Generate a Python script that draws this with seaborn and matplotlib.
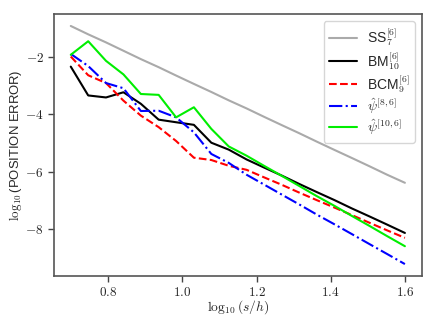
import numpy as np
import pandas as pd
import matplotlib
matplotlib.use("Agg")
import matplotlib.pyplot as plt
from matplotlib.ticker import FuncFormatter
import seaborn as sns

x = [0.699, 0.746, 0.794, 0.841, 0.888, 0.936, 0.983, 1.031, 1.078, 1.125,
     1.173, 1.220, 1.268, 1.315, 1.362, 1.410, 1.457, 1.505, 1.552, 1.600]
ss7 = [-0.94, -1.23, -1.51, -1.80, -2.09, -2.37, -2.66, -2.95, -3.23, -3.52,
       -3.80, -4.09, -4.38, -4.66, -4.95, -5.24, -5.52, -5.81, -6.10, -6.38]
bm10 = [-2.35, -3.35, -3.42, -3.24, -3.64, -4.19, -4.28, -4.37, -4.99, -5.23,
        -5.57, -5.85, -6.13, -6.42, -6.70, -6.98, -7.27, -7.55, -7.83, -8.12]
bcm9 = [-2.00, -2.65, -2.92, -3.53, -4.05, -4.45, -4.93, -5.51, -5.59, -5.79,
        -5.93, -6.19, -6.45, -6.72, -6.98, -7.24, -7.50, -7.77, -8.03, -8.29]
psi86 = [-1.91, -2.33, -2.92, -3.10, -3.89, -3.88, -4.11, -4.63, -5.38, -5.69,
         -6.10, -6.44, -6.79, -7.13, -7.48, -7.82, -8.16, -8.51, -8.85, -9.20]
psi106 = [-1.94, -1.47, -2.15, -2.62, -3.30, -3.33, -4.11, -3.76, -4.51, -5.12,
          -5.44, -5.79, -6.14, -6.49, -6.84, -7.18, -7.53, -7.88, -8.23, -8.58]

labels = [r"SS$_7^{[6]}$", r"BM$_{10}^{[6]}$", r"BCM$_9^{[6]}$",
          r"$\hat{\psi}^{[8,6]}$", r"$\hat{\psi}^{[10,6]}$"]
series = [ss7, bm10, bcm9, psi86, psi106]
colors = ["#aaaaaa", "black", "red", "blue", "#00ee00"]
styles = ["-", "-", "--", "-.", "-"]

sns.set_style("ticks")
plt.rcParams["mathtext.fontset"] = "cm"
plt.rcParams["font.family"] = ["Liberation Sans", "DejaVu Sans"]

fig = plt.figure(figsize=(4.36, 3.27), dpi=100)
ax = fig.add_axes([0.124, 0.156, 0.843, 0.801])

for lab, ys, c, ls in zip(labels, series, colors, styles):
    df = pd.DataFrame({"x": x, "y": ys})
    sns.lineplot(data=df, x="x", y="y", ax=ax, color=c, linestyle=ls,
                 linewidth=1.5, label=lab)

ax.set_xticks([0.8, 1.0, 1.2, 1.4, 1.6])
ax.set_yticks([-8, -6, -4, -2])
ax.xaxis.set_major_formatter(FuncFormatter(lambda v, p: r"$%.1f$" % v))
ax.yaxis.set_major_formatter(FuncFormatter(lambda v, p: r"$%d$" % round(v)))
ax.tick_params(labelsize=9.5, length=4, width=1, color="#444444")
ax.set_xlabel(r"$\log_{10}(s/h)$", fontsize=10.5)
ax.set_ylabel(r"$\log_{10}$(POSITION ERROR)", fontsize=9.5)
for s in ax.spines.values():
    s.set_color("#555555")
    s.set_linewidth(1.2)
    s.set_visible(True)

leg = ax.legend(loc="upper right", fontsize=10, frameon=True, fancybox=True,
                edgecolor="#cccccc", framealpha=0.8, labelspacing=0.1,
                handletextpad=0.7, borderaxespad=0.5)

# fit label sizes to the reference extents (in pixels)
fig.canvas.draw()
r = fig.canvas.get_renderer()
yl = ax.yaxis.label
h = yl.get_window_extent(r).height
yl.set_fontsize(9.5 * 152.0 / h)
xl = ax.xaxis.label
w = xl.get_window_extent(r).width
xl.set_fontsize(10.5 * 62.0 / w)
ax.yaxis.set_label_coords(-0.082, 0.5)
ax.xaxis.set_label_coords(0.5, -0.084)

fig.savefig("out.png", dpi=100)
